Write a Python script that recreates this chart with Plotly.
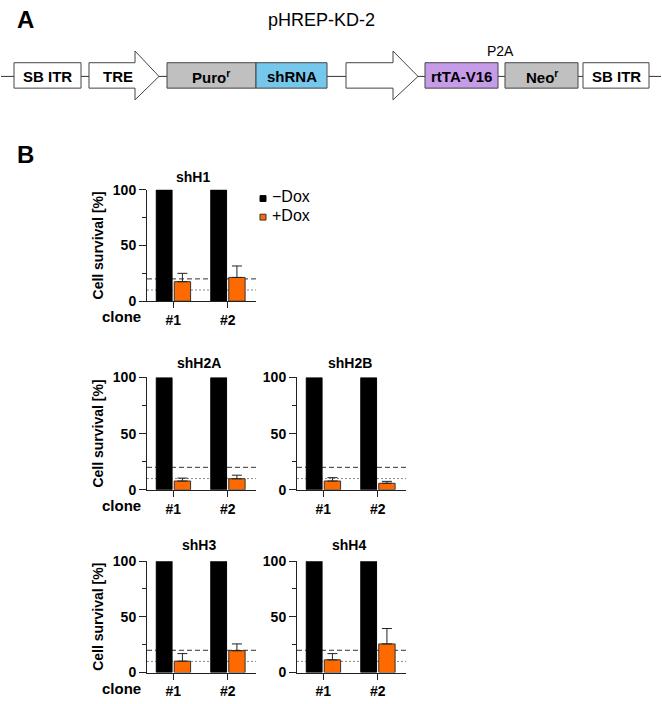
import plotly.graph_objects as go

W, H = 662, 704
FONT = "Arial, Liberation Sans, sans-serif"
ORANGE = "#FF6A00"

# ---------------- data ----------------
clones = ["#1", "#2"]
panel_names = ["shH1", "shH2A", "shH2B", "shH3", "shH4"]
series_names = ["\u2212Dox", "+Dox"]
minus_dox = [100, 100]

shH1_plus = [17.5, 21.3]
shH1_sd = [7.5, 10.3]
shH2A_plus = [7.8, 9.8]
shH2A_sd = [2.6, 3.2]
shH2B_plus = [7.8, 5.8]
shH2B_sd = [3.0, 1.7]
shH3_plus = [10.2, 19.6]
shH3_sd = [6.8, 6.1]
shH4_plus = [11.4, 25.7]
shH4_sd = [5.6, 13.8]

plus_means = [shH1_plus, shH2A_plus, shH2B_plus, shH3_plus, shH4_plus]
plus_sds = [shH1_sd, shH2A_sd, shH2B_sd, shH3_sd, shH4_sd]

y_ticks = [0, 50, 100]
y_minor = [25, 75]
dashed_level = 20
dotted_level = 10

# ---------------- helpers ----------------
def px(x):
    return x / W


def py(y):
    return 1 - y / H


def note(text, x, y, size=14, bold=False, xanchor="center", angle=0):
    return dict(text=text, x=px(x), y=py(y), xref="paper", yref="paper",
                showarrow=False, xanchor=xanchor, yanchor="middle",
                textangle=angle,
                font=dict(family=FONT, size=size, color="black",
                          weight="bold" if bold else "normal"))


# panel boxes in pixel coords: (x0, x1, ytop, ybottom)
panel_px = [
    (147, 256, 186, 300),
    (147, 256, 378, 493),
    (297, 406, 378, 493),
    (147, 256, 566, 680),
    (297, 406, 566, 680),
]
title_pos = [(193, 173), (199, 363), (350, 363), (199, 549), (349, 549)]

fig = go.Figure()
layout_axes = {}
shapes = []
annotations = []

for i, name in enumerate(panel_names):
    suf = "" if i == 0 else str(i + 1)
    xa, ya = "x" + suf, "y" + suf
    x0, x1, yt, yb = panel_px[i]
    fig.add_trace(go.Bar(
        x=clones, y=minus_dox, width=0.29, offset=-0.31,
        marker=dict(color="black", line=dict(color="black", width=1)),
        xaxis=xa, yaxis=ya, showlegend=False, name=series_names[0]))
    fig.add_trace(go.Bar(
        x=clones, y=plus_means[i], width=0.3, offset=0.02,
        marker=dict(color=ORANGE, line=dict(color="#333333", width=1)),
        error_y=dict(type="data", symmetric=False, array=plus_sds[i],
                     arrayminus=[0] * len(clones), color="#222222",
                     thickness=1, width=5),
        xaxis=xa, yaxis=ya, showlegend=False, name=series_names[1]))

    layout_axes["xaxis" + suf] = dict(
        domain=[px(x0), px(x1)], anchor=ya, range=[-0.48, 1.52],
        showline=True, linecolor="#222222", linewidth=1,
        ticks="outside", ticklen=6, tickcolor="#222222",
        tickfont=dict(family=FONT, size=14, color="black", weight="bold"),
        showgrid=False, zeroline=False, fixedrange=True)
    layout_axes["yaxis" + suf] = dict(
        domain=[py(yb), py(yt)], anchor=xa, range=[0, 100],
        tickvals=y_ticks, ticks="outside", ticklen=7, tickcolor="#222222",
        minor=dict(tickvals=y_minor, ticks="outside", ticklen=4,
                   tickcolor="#222222", showgrid=False),
        showline=True, linecolor="#222222", linewidth=1,
        tickfont=dict(family=FONT, size=14, color="black", weight="bold"),
        showgrid=False, zeroline=False, fixedrange=True)

    shapes.append(dict(type="line", xref=xa + " domain", x0=0, x1=1,
                       yref=ya, y0=dashed_level, y1=dashed_level,
                       line=dict(color="#333333", width=1, dash="5px,3px"),
                       layer="below"))
    shapes.append(dict(type="line", xref=xa + " domain", x0=0, x1=1,
                       yref=ya, y0=dotted_level, y1=dotted_level,
                       line=dict(color="#888888", width=1, dash="2px,2px"),
                       layer="below"))

    tx, ty = title_pos[i]
    annotations.append(note(name, tx, ty, 14, True))
    if x0 < 200:
        annotations.append(note("Cell survival [%]", 98, (yt + yb) / 2, 14,
                                True, angle=-90))
        annotations.append(note("clone", 121, yb + 16, 15, True))

# ---------------- legend (manual) ----------------
leg_items = [(series_names[0], "black", "black", 195),
             (series_names[1], ORANGE, "#333333", 214)]
for label, fc, lc, cy in leg_items:
    shapes.append(dict(type="rect", xref="paper", yref="paper",
                       x0=px(260), x1=px(266), y0=py(cy + 3), y1=py(cy - 3),
                       fillcolor=fc, line=dict(color=lc, width=1)))
    annotations.append(note(label, 270, cy - 2, 16, False, xanchor="left"))

# ---------------- construct diagram (panel A) ----------------
LINE_Y = 70
BOX_T, BOX_B = 56, 82
shapes.append(dict(type="line", xref="paper", yref="paper",
                   x0=px(1), x1=px(661), y0=py(LINE_Y), y1=py(LINE_Y),
                   line=dict(color="#333333", width=1)))

boxes = [
    (14, 81, "white", "SB ITR"),
    (167, 256, "#C0C0C0", "Puro<sup>r</sup>"),
    (256, 327, "#76C7EC", "shRNA"),
    (425, 498, "#C69CE9", "rtTA-V16"),
    (505, 578, "#C0C0C0", "Neo<sup>r</sup>"),
    (583, 649, "white", "SB ITR"),
]
for bx0, bx1, col, lab in boxes:
    shapes.append(dict(type="rect", xref="paper", yref="paper",
                       x0=px(bx0), x1=px(bx1), y0=py(BOX_B), y1=py(BOX_T),
                       fillcolor=col, line=dict(color="#444444", width=1)))
    annotations.append(note(lab, (bx0 + bx1) / 2, LINE_Y, 15, True))


def arrow_path(ax0, ax1, tip):
    pts = [(ax0, BOX_T), (ax1, BOX_T), (ax1, 44), (tip, LINE_Y), (ax1, 94),
           (ax1, BOX_B), (ax0, BOX_B)]
    s = "M" + " L".join(f"{px(a):.5f},{py(b):.5f}" for a, b in pts) + " Z"
    return s


for ax0, ax1, tip, lab in [(89, 135, 159, "TRE"), (346, 393, 418, "")]:
    shapes.append(dict(type="path", xref="paper", yref="paper",
                       path=arrow_path(ax0, ax1, tip), fillcolor="white",
                       line=dict(color="#444444", width=1)))
    if lab:
        annotations.append(note(lab, 118, LINE_Y, 15, True))

annotations.append(note("P2A", 500, 44, 14))
annotations.append(note("pHREP-KD-2", 321, 12, 18))
annotations.append(note("A", 25, 12, 24, True))
annotations.append(note("B", 25, 150, 24, True))

fig.update_layout(
    width=W, height=H, autosize=False,
    margin=dict(l=0, r=0, t=0, b=0),
    paper_bgcolor="white", plot_bgcolor="rgba(0,0,0,0)",
    barmode="overlay", showlegend=False,
    shapes=shapes, annotations=annotations,
    font=dict(family=FONT, color="black"),
    **layout_axes,
)

fig.write_html("out.html", config={"displayModeBar": False})
